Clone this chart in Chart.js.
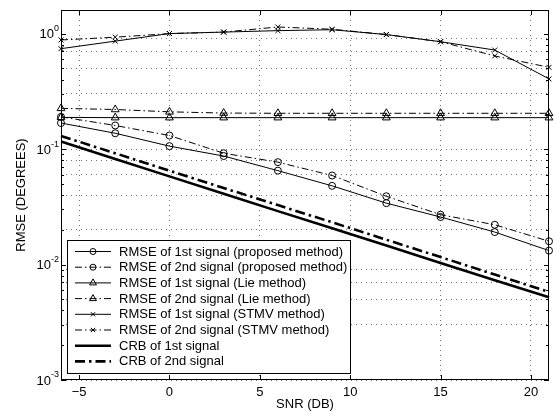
<!DOCTYPE html>
<html>
<head>
<meta charset="utf-8">
<script src="https://cdn.jsdelivr.net/npm/chart.js@4.4.0/dist/chart.umd.min.js"></script>
<style>
html,body{margin:0;padding:0;background:#fff;}
#wrap{width:557px;height:419px;position:relative;}
</style>
</head>
<body>
<div id="wrap"><canvas id="c" width="557" height="419"></canvas></div>
<script>
// ---- data ----
const snr = [-6, -3, 0, 3, 6, 9, 12, 15, 18, 21];
const propFirst  = [0.168, 0.137, 0.106, 0.087, 0.065, 0.048, 0.034, 0.0258, 0.0191, 0.0132];
const propSecond = [0.190, 0.160, 0.131, 0.092, 0.077, 0.059, 0.039, 0.027, 0.0221, 0.0159];
const lieFirst   = [0.188, 0.187, 0.187, 0.187, 0.187, 0.187, 0.187, 0.187, 0.187, 0.187];
const lieSecond  = [0.225, 0.220, 0.210, 0.205, 0.204, 0.204, 0.204, 0.204, 0.204, 0.204];
const stmvFirst  = [0.74, 0.86, 1.00, 1.03, 1.06, 1.08, 0.98, 0.85, 0.72, 0.405];
const stmvSecond = [0.88, 0.93, 1.00, 1.03, 1.14, 1.09, 0.98, 0.85, 0.64, 0.51];
const crbFirst   = [0.116, 0.082, 0.058, 0.041, 0.029, 0.0206, 0.0146, 0.0103, 0.0073, 0.0052];
const crbSecond  = [0.130, 0.092, 0.065, 0.046, 0.0327, 0.0232, 0.0164, 0.0116, 0.0082, 0.0058];
const seriesLabels = [
  'RMSE of 1st signal (proposed method)',
  'RMSE of 2nd signal (proposed method)',
  'RMSE of 1st signal (Lie method)',
  'RMSE of 2nd signal (Lie method)',
  'RMSE of 1st signal (STMV method)',
  'RMSE of 2nd signal (STMV method)',
  'CRB of 1st signal',
  'CRB of 2nd signal'
];
const xTickValues = [-5, 0, 5, 10, 15, 20];
const yDecades = [0.001, 0.01, 0.1, 1];
const yExponents = ['-3', '-2', '-1', '0'];
const xTitle = 'SNR (DB)';
const yTitle = 'RMSE (DEGREES)';

const FONT = "'Liberation Sans', Arial, Helvetica, sans-serif";
const DASHDOT = [7, 3, 1.5, 3];
const THICKDASHDOT = [10, 4, 2.5, 4];

function pts(vals){ return vals.map((v,i)=>({x:snr[i], y:v})); }

function ds(label, vals, style, dash, width, radius){
  return {
    label, data: pts(vals),
    borderColor:'#000', backgroundColor:'rgba(0,0,0,0)',
    borderWidth: width, borderDash: dash,
    pointStyle: style || 'circle', pointRadius: radius,
    pointBorderColor:'#000', pointBackgroundColor:'rgba(0,0,0,0)',
    pointBorderWidth: 1, tension: 0, clip: false
  };
}

const datasets = [
  ds(seriesLabels[0], propFirst, 'circle', [], 1, 3.5),
  ds(seriesLabels[1], propSecond, 'circle', DASHDOT, 1, 3.5),
  ds(seriesLabels[2], lieFirst, 'triangle', [], 1, 4.5),
  ds(seriesLabels[3], lieSecond, 'triangle', DASHDOT, 1, 4.5),
  ds(seriesLabels[4], stmvFirst, 'crossRot', [], 1, 3.5),
  ds(seriesLabels[5], stmvSecond, 'crossRot', DASHDOT, 1, 3.5),
  ds(seriesLabels[6], crbFirst, false, [], 2.6, 0),
  ds(seriesLabels[7], crbSecond, false, THICKDASHDOT, 2.6, 0)
];

function yTickList(){
  const t = [];
  for (let e=-3; e<=0; e++){
    const base = Math.pow(10, e);
    const n = (e===0) ? 1 : 9;
    for (let k=1; k<=n; k++) t.push({value: +(k*base).toPrecision(3)});
  }
  return t;
}

const decorPlugin = {
  id:'decor',
  afterDatasetsDraw(chart){
    const ctx = chart.ctx, a = chart.chartArea;
    const xs = chart.scales.x, ys = chart.scales.y;
    ctx.save();
    // box
    ctx.strokeStyle = '#000'; ctx.lineWidth = 1; ctx.setLineDash([]);
    ctx.strokeRect(a.left+0.5, a.top+0.5, a.right-a.left-1, a.bottom-a.top-1);
    // inward tick marks
    ctx.beginPath();
    xTickValues.forEach(v=>{
      const px = Math.round(xs.getPixelForValue(v))+0.5;
      ctx.moveTo(px, a.bottom); ctx.lineTo(px, a.bottom-5);
      ctx.moveTo(px, a.top); ctx.lineTo(px, a.top+5);
    });
    yTickList().forEach(t=>{
      const py = Math.round(ys.getPixelForValue(t.value))+0.5;
      const major = yDecades.includes(t.value);
      const L = major ? 5 : 3;
      ctx.moveTo(a.left, py); ctx.lineTo(a.left+L, py);
      ctx.moveTo(a.right, py); ctx.lineTo(a.right-L, py);
    });
    ctx.stroke();
    // y tick labels with superscript exponents
    ctx.fillStyle = '#000';
    yDecades.forEach((v,i)=>{
      const py = ys.getPixelForValue(v);
      ctx.font = '9px ' + FONT;
      ctx.textAlign = 'left'; ctx.textBaseline = 'middle';
      const ew = ctx.measureText(yExponents[i]).width;
      const ex = 59 - ew;
      ctx.fillText(yExponents[i], ex, py - 5);
      ctx.font = '13px ' + FONT;
      ctx.textAlign = 'right';
      ctx.fillText('10', ex, py + 1);
    });
    // legend
    const lx = 67, ly = 240, lw = 283, lh = 133;
    ctx.fillStyle = '#fff';
    ctx.fillRect(lx, ly, lw, lh);
    ctx.strokeStyle = '#000'; ctx.lineWidth = 1;
    ctx.strokeRect(lx+0.5, ly+0.5, lw, lh);
    chart.data.datasets.forEach((d,i)=>{
      const ry = 251.5 + i*15.7;
      ctx.save();
      ctx.strokeStyle = '#000';
      ctx.lineWidth = d.borderWidth;
      ctx.setLineDash(d.borderDash || []);
      ctx.beginPath(); ctx.moveTo(75, ry); ctx.lineTo(111, ry); ctx.stroke();
      ctx.setLineDash([]);
      if (d.pointRadius > 0 && Chart.helpers && Chart.helpers.drawPoint){
        ctx.lineWidth = 1; ctx.fillStyle = 'rgba(0,0,0,0)';
        Chart.helpers.drawPoint(ctx, {pointStyle:d.pointStyle, radius:d.pointRadius - 0.5, borderWidth:1, rotation:0}, 93, ry);
      }
      ctx.restore();
      ctx.fillStyle = '#000';
      ctx.font = '13px ' + FONT;
      ctx.textAlign = 'left'; ctx.textBaseline = 'middle';
      ctx.fillText(d.label, 119, ry + 0.5);
    });
    ctx.restore();
  }
};

new Chart(document.getElementById('c'), {
  type:'line',
  data:{ datasets },
  options:{
    responsive:false, animation:false, devicePixelRatio:1,
    layout:{ padding:{ left:0, right:8, top:10, bottom:0 } },
    plugins:{ legend:{display:false}, tooltip:{enabled:false} },
    elements:{ line:{ borderCapStyle:'butt' } },
    scales:{
      x:{
        type:'linear', min:-6, max:21,
        afterBuildTicks(s){ s.ticks = xTickValues.map(v=>({value:v})); },
        afterFit(s){ s.height = 39; },
        grid:{ color:'rgba(0,0,0,0.55)', lineWidth:1, drawTicks:false },
        border:{ display:false, dash:[1,4] },
        ticks:{ color:'#000', font:{ family:FONT, size:13 }, padding:5, maxRotation:0,
          callback:(v)=> v<0 ? '\u2212'+Math.abs(v) : String(v) },
        title:{ display:true, text:xTitle, color:'#000', font:{ family:FONT, size:13 }, padding:{top:0,bottom:7} }
      },
      y:{
        type:'logarithmic', min:0.001, max:1.6,
        afterBuildTicks(s){ s.ticks = yTickList(); },
        afterFit(s){ s.width = 61; },
        grid:{ color:'rgba(0,0,0,0.55)', lineWidth:1, drawTicks:false },
        border:{ display:false, dash:[1,4] },
        ticks:{ callback:()=>'' , padding:0 },
        title:{ display:true, text:yTitle, color:'#000', font:{ family:FONT, size:13 }, padding:{top:14,bottom:0} }
      }
    }
  },
  plugins:[decorPlugin]
});
</script>
</body>
</html>
